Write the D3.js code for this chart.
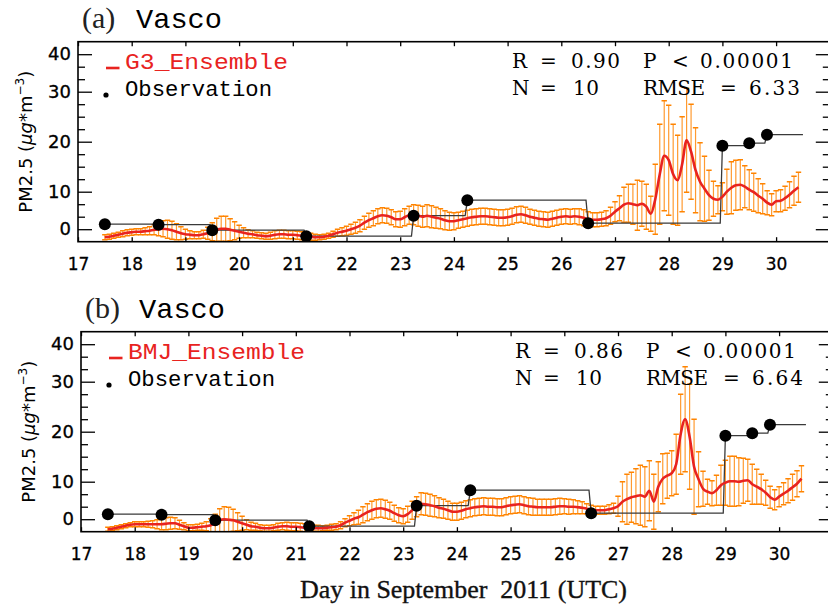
<!DOCTYPE html>
<html><head><meta charset="utf-8">
<script src="https://cdn.jsdelivr.net/npm/d3@7/dist/d3.min.js"></script>
<style>body{margin:0;background:#fff}svg{display:block}</style>
</head><body>
<svg id="c" width="828" height="611"></svg>
<script>
// ---------------- data ----------------
const dayTicks = [17,18,19,20,21,22,23,24,25,26,27,28,29,30];
const yMajorVals = [2.5,10,20,30,37.5];
const yMajorLabels = ["0","10","20","30","40"];
const yMinorVals = [5,7.5,12.5,15,17.5,22.5,25,27.5,32.5,35];

const obsDay = [17.5,18.5,19.5,21.25,23.25,24.25,26.5,29.0,29.5,29.83];
const obsPM  = [3.5,3.4,2.3,1.1,5.2,8.3,3.7,19.2,19.7,21.4];
const obsEndDay = 30.5;

const modelStartDay = 17.5;
const modelStepHours = 2;

const g3Mean = [
0.9,1.0,1.2,1.4,1.6,1.8,1.9,2.0,2.0,2.1,2.2,2.4,
2.5,2.6,2.5,2.3,2.0,1.7,1.5,1.4,1.3,1.3,1.5,1.7,
2.0,2.4,2.6,2.6,2.4,2.2,2.0,1.8,1.6,1.5,1.3,1.2,
1.1,1.2,1.4,1.5,1.5,1.4,1.4,1.3,1.2,1.1,1.0,0.9,
0.9,1.0,1.2,1.5,1.8,2.0,2.2,2.5,2.8,3.2,3.8,4.3,
4.7,5.1,5.3,5.2,4.9,4.5,4.5,4.9,5.3,5.4,5.2,5.0,
5.2,5.0,4.8,4.6,4.3,4.1,4.1,4.3,4.5,4.7,4.9,5.0,
5.1,5.1,5.0,4.9,4.8,4.8,4.9,5.1,5.4,5.5,5.3,5.0,
4.8,4.6,4.5,4.4,4.6,4.8,5.0,5.1,5.0,5.1,5.0,4.8,
4.5,4.4,4.4,4.5,4.7,5.2,6.0,6.7,7.4,7.7,7.5,7.3,
7.6,7.0,5.6,8.5,13.5,17.2,16.3,13.5,12.3,15.5,20.3,18.0,
14.3,12.0,10.6,9.3,8.6,8.4,9.0,10.0,10.8,11.3,11.4,11.0,
10.4,9.9,9.2,8.6,7.8,7.4,8.1,8.2,8.7,9.4,10.2,10.9];
const g3Sd = [
0.5,0.5,0.5,0.5,0.6,0.6,0.6,0.6,0.6,0.7,0.8,1.0,
1.3,1.6,1.8,1.8,1.6,1.3,1.0,0.8,0.7,0.7,0.8,1.2,
1.8,2.3,2.5,2.5,2.2,1.8,1.3,1.0,0.8,0.7,0.6,0.6,
0.6,0.7,0.8,0.8,0.8,0.8,0.8,0.8,0.8,0.8,0.7,0.6,
0.5,0.5,0.5,0.6,0.7,0.8,0.9,1.0,1.1,1.2,1.3,1.4,
1.5,1.5,1.5,1.5,1.5,1.5,1.6,1.7,1.8,2.0,2.1,2.1,
2.2,2.2,2.1,2.0,1.9,1.8,1.7,1.6,1.6,1.6,1.6,1.6,
1.6,1.6,1.6,1.6,1.6,1.6,1.6,1.6,1.6,1.6,1.6,1.5,
1.5,1.5,1.5,1.5,1.5,1.5,1.5,1.5,1.5,1.5,1.6,1.6,
1.5,1.4,1.4,1.4,1.5,1.7,2.0,2.5,3.5,3.8,4.0,5.0,
4.5,4.5,3.5,7.0,10.0,11.0,11.0,10.0,9.0,9.5,10.4,9.5,
8.5,7.8,6.5,5.0,3.5,2.8,2.8,4.5,5.2,5.0,5.0,4.2,
4.0,3.8,3.4,3.0,2.4,2.2,2.1,2.2,2.4,2.6,2.9,3.0];

const bmjMean = [
0.5,0.6,0.8,1.0,1.2,1.4,1.5,1.5,1.5,1.5,1.5,1.5,
1.5,1.6,1.7,1.7,1.4,1.1,0.8,0.8,0.9,1.0,1.1,1.3,
1.7,2.3,2.5,2.4,2.3,2.0,1.7,1.4,1.1,1.0,0.8,0.7,
0.7,0.8,1.0,1.1,1.1,1.0,1.0,0.9,0.8,0.7,0.7,0.7,
0.7,0.8,0.9,1.0,1.3,1.8,2.2,2.6,2.9,3.4,3.9,4.3,
4.6,4.7,4.5,4.2,3.7,3.3,3.1,3.5,4.3,5.0,5.6,5.5,
5.3,5.1,4.8,4.6,4.3,4.0,4.0,4.2,4.5,4.7,4.9,5.0,
5.1,5.0,5.0,4.9,4.9,5.1,5.3,5.4,5.5,5.3,5.1,5.0,
4.9,4.9,4.9,4.9,5.0,5.1,5.1,5.0,5.0,4.9,4.8,4.6,
4.4,4.3,4.3,4.3,4.5,4.7,5.1,6.0,6.5,6.9,7.1,7.3,
7.0,8.2,6.0,9.0,10.6,11.2,11.7,13.5,19.5,22.5,19.0,13.0,
10.5,8.6,8.0,7.7,8.3,9.3,9.8,10.1,10.1,10.0,10.2,10.3,
9.5,9.0,8.5,7.8,6.9,6.4,7.0,7.6,8.2,8.9,9.6,10.6];
const bmjSd = [
0.4,0.4,0.4,0.4,0.4,0.4,0.5,0.5,0.5,0.6,0.7,0.9,
1.1,1.2,1.2,1.1,0.9,0.7,0.6,0.6,0.6,0.7,0.9,1.3,
1.8,2.3,2.5,2.5,2.2,1.8,1.4,1.0,0.8,0.7,0.6,0.6,
0.6,0.6,0.7,0.7,0.8,0.8,0.8,0.8,0.8,0.7,0.6,0.6,
0.5,0.5,0.6,0.6,0.7,0.8,1.0,1.2,1.4,1.6,1.7,1.8,
1.8,1.8,1.8,1.7,1.6,1.5,1.5,1.6,1.8,2.0,2.2,2.2,
2.2,2.1,2.0,1.9,1.8,1.7,1.7,1.7,1.7,1.7,1.7,1.7,
1.7,1.7,1.7,1.7,1.7,1.7,1.7,1.7,1.7,1.7,1.7,1.7,
1.6,1.6,1.6,1.6,1.6,1.6,1.5,1.5,1.4,1.3,1.2,1.0,
0.9,0.8,0.8,0.8,0.9,1.0,2.0,4.0,5.0,5.0,5.5,6.0,
6.0,6.0,5.5,5.0,5.0,4.5,4.5,6.0,8.0,10.5,10.5,9.5,
5.5,3.5,2.5,2.5,3.0,4.0,4.5,5.0,5.0,4.8,4.5,4.2,
4.0,3.5,3.0,2.5,2.2,2.0,2.0,2.2,2.4,2.6,2.6,2.6];

const panelLetters = ["(a)","(b)"];
const stationName = "Vasco";
const ensembleNames = ["G3_Ensemble","BMJ_Ensemble"];
const statR = ["0.90","0.86"];
const statP = "0.00001";
const statN = ["10","10"];
const statRMSE = ["6.33","6.64"];

// ---------------- drawing ----------------
const svg = d3.select("#c");
const RED = "#e8231f", ORANGE = "#ff8400";

function drawPanel(idx, mean, sd, dx, dy) {
  const g = svg.append("g").attr("transform", `translate(${dx},${dy})`);
  const x = d3.scaleLinear().domain([17,31]).range([78, 78 + 14*53.7]);
  const y = d3.scaleLinear().domain([0,40]).range([241.7, 41.7]);
  const times = mean.map((m,i) => modelStartDay + i*modelStepHours/24);

  const clipId = "clip" + idx;
  g.append("clipPath").attr("id", clipId).append("rect")
    .attr("x", x(17)).attr("y", y(40)).attr("width", x(31)-x(17)).attr("height", y(0)-y(40));
  const plot = g.append("g").attr("clip-path", `url(#${clipId})`);

  // error bars
  const eb = plot.append("g");
  times.forEach((t,i) => {
    const xi = x(t), y1 = y(mean[i]-sd[i]), y2 = y(mean[i]+sd[i]);
    eb.append("line").attr("x1",xi).attr("x2",xi).attr("y1",y1).attr("y2",y2)
      .attr("stroke","#ff9a30").attr("stroke-width",1.2);
    [y1,y2].forEach(yy => eb.append("line").attr("x1",xi-2.7).attr("x2",xi+2.7)
      .attr("y1",yy).attr("y2",yy).attr("stroke",ORANGE).attr("stroke-width",1.5));
  });

  // observation step line
  const stepPts = [];
  obsDay.forEach((d,i) => {
    stepPts.push([d, obsPM[i]]);
    const next = i < obsDay.length-1 ? obsDay[i+1] - 0.04 : obsEndDay;
    stepPts.push([next, obsPM[i]]);
  });
  plot.append("path").datum(stepPts)
    .attr("d", d3.line().x(p=>x(p[0])).y(p=>y(p[1])))
    .attr("fill","none").attr("stroke","#3a3a3a").attr("stroke-width",1.3);

  // ensemble mean
  plot.append("path").datum(times.map((t,i)=>[t,mean[i]]))
    .attr("d", d3.line().x(p=>x(p[0])).y(p=>y(p[1])).curve(d3.curveMonotoneX))
    .attr("fill","none").attr("stroke",RED).attr("stroke-width",2.6);

  // obs dots
  plot.selectAll("circle.obs").data(obsDay).enter().append("circle")
    .attr("cx", d=>x(d)).attr("cy", (d,i)=>y(obsPM[i])).attr("r", 6).attr("fill","#000");

  // frame
  g.append("rect").attr("x",x(17)).attr("y",y(40)).attr("width",x(31)-x(17)).attr("height",y(0)-y(40))
    .attr("fill","none").attr("stroke","#000").attr("stroke-width",1.6);

  const styleAxis = (sel, size, fam) => {
    sel.select(".domain").remove();
    sel.attr("font-family", fam).attr("font-size", size);
    sel.selectAll("line").attr("stroke","#000").attr("stroke-width",1.3);
    sel.selectAll("text").attr("fill","#000").attr("stroke","#000").attr("stroke-width",0.3);
  };
  const xb = g.append("g").attr("transform",`translate(0,${y(0)})`)
    .call(d3.axisBottom(x).tickValues(dayTicks).tickFormat(d3.format("d")).tickSizeInner(-4.5).tickSizeOuter(0).tickPadding(16));
  styleAxis(xb, 17, "DejaVu Sans");
  const xt = g.append("g").attr("transform",`translate(0,${y(40)})`)
    .call(d3.axisTop(x).tickValues(dayTicks).tickFormat("").tickSizeInner(-4.5).tickSizeOuter(0));
  styleAxis(xt, 17, "DejaVu Sans");
  const yl = g.append("g").attr("transform",`translate(${x(17)},0)`)
    .call(d3.axisLeft(y).tickValues(yMajorVals).tickFormat((d,i)=>yMajorLabels[i]).tickSizeInner(-14).tickSizeOuter(0).tickPadding(7));
  styleAxis(yl, 18, "DejaVu Sans");
  const ylm = g.append("g").attr("transform",`translate(${x(17)},0)`)
    .call(d3.axisLeft(y).tickValues(yMinorVals).tickFormat("").tickSizeInner(-7).tickSizeOuter(0));
  styleAxis(ylm, 18, "DejaVu Sans");
  const yr = g.append("g").attr("transform",`translate(${x(31)},0)`)
    .call(d3.axisRight(y).tickValues(yMajorVals).tickFormat("").tickSizeInner(-14).tickSizeOuter(0));
  styleAxis(yr, 18, "DejaVu Sans");
  const yrm = g.append("g").attr("transform",`translate(${x(31)},0)`)
    .call(d3.axisRight(y).tickValues(yMinorVals).tickFormat("").tickSizeInner(-7).tickSizeOuter(0));
  styleAxis(yrm, 18, "DejaVu Sans");

  // y title
  const yt = g.append("text").attr("transform",`translate(32,${(y(0)+y(40))/2}) rotate(-90)`)
    .attr("text-anchor","middle").attr("font-family","DejaVu Sans").attr("font-size",18).attr("fill","#000");
  yt.append("tspan").text("PM2.5 (");
  yt.append("tspan").attr("font-style","italic").text("μg");
  yt.append("tspan").text("*m");
  yt.append("tspan").attr("font-size",12).attr("dy",-8).text("−3");
  yt.append("tspan").attr("dy",8).text(")");

  // title
  g.append("text").attr("x",82).attr("y",27.5).attr("font-family","Liberation Serif").attr("font-size",30)
    .attr("fill","#222").text(panelLetters[idx]);
  g.append("text").attr("x",136).attr("y",27.5).attr("font-family","Liberation Mono").attr("font-size",28)
    .attr("textLength",86).attr("lengthAdjust","spacingAndGlyphs").attr("fill","#000").text(stationName);

  // legend
  g.append("line").attr("x1",106).attr("x2",119.5).attr("y1",68).attr("y2",68).attr("stroke",RED).attr("stroke-width",2.6);
  g.append("text").attr("x",125).attr("y",69).attr("font-family","Liberation Mono").attr("font-size",22)
    .attr("textLength", idx===0 ? 163 : 177).attr("lengthAdjust","spacingAndGlyphs")
    .attr("fill",RED).text(ensembleNames[idx]);
  g.append("circle").attr("cx",106).attr("cy",95).attr("r",2.6).attr("fill","#000");
  g.append("text").attr("x",125).attr("y",95.5).attr("font-family","Liberation Mono").attr("font-size",22)
    .attr("textLength",147).attr("lengthAdjust","spacingAndGlyphs").attr("fill","#000").text("Observation");

  // statistics
  const st = (xx, yy, txt, len) => {
    const t = g.append("text").attr("x",xx).attr("y",yy).attr("font-family","DejaVu Serif")
      .attr("font-size",20).attr("fill","#000").text(txt);
    if (len) t.attr("textLength",len).attr("lengthAdjust","spacing");
  };
  st(512,68.3,"R"); st(540,68.3,"="); st(571,68.3,statR[idx],49);
  st(643,68.3,"P"); st(672,68.3,"<"); st(700,68.3,statP,93);
  st(512,95,"N"); st(540,95,"="); st(573,95,statN[idx],26);
  st(643,95,"RMSE",62); st(720,95,"="); st(749,95,statRMSE[idx],51);
}

drawPanel(0, g3Mean, g3Sd, 0, 0);
drawPanel(1, bmjMean, bmjSd, 3, 290);

svg.append("text").attr("x",300).attr("y",598).attr("font-family","Liberation Serif").attr("font-size",25)
  .attr("xml:space","preserve").attr("textLength",327).attr("lengthAdjust","spacingAndGlyphs")
  .attr("fill","#111").attr("stroke","#111").attr("stroke-width",0.35)
  .text("Day in September\u00A0\u00A02011 (UTC)");
</script>
</body></html>
